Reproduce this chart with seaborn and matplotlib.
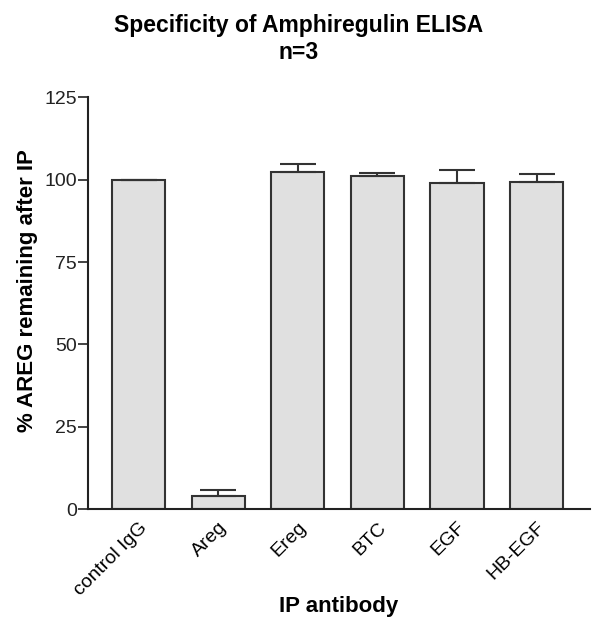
import matplotlib
matplotlib.use("Agg")
import matplotlib.pyplot as plt
import pandas as pd
import seaborn as sns

# Data
antibodies = ["control IgG", "Areg", "Ereg", "BTC", "EGF", "HB-EGF"]
percent_remaining = [100.0, 4.0, 102.4, 101.0, 98.9, 99.3]
sem = [0.0, 1.8, 2.3, 0.9, 4.1, 2.5]

df = pd.DataFrame({"antibody": antibodies, "value": percent_remaining, "err": sem})

sns.set_style("ticks")
plt.rcParams["font.family"] = ["Liberation Sans", "DejaVu Sans"]
plt.rcParams.update({"text.color": "black", "axes.labelcolor": "black",
                     "xtick.color": "black", "ytick.color": "black"})

fig = plt.figure(figsize=(5.97, 6.24), dpi=100)
ax = fig.add_axes([0.147, 0.184, 0.841, 0.660])

# Bars
sns.barplot(data=df, x="antibody", y="value", ax=ax, color="#e0e0e0",
            edgecolor="#333333", linewidth=1.5, width=0.67, errorbar=None,
            saturation=1)

# Upper-only error bars
ax.errorbar(range(len(df)), df["value"], yerr=[[0] * len(df), df["err"]],
            fmt="none", ecolor="#333333", elinewidth=1.5, capsize=13,
            capthick=1.5)

ax.set_ylim(0, 125)
ax.set_xlim(-0.64, 5.67)
ax.set_yticks([0, 25, 50, 75, 100, 125])
ax.tick_params(axis="y", labelsize=14, length=7, width=1.2, direction="out",
               pad=1, colors="#222222")
ax.tick_params(axis="x", length=0, labelsize=14, pad=7)
plt.setp(ax.get_xticklabels(), rotation=45, ha="right", rotation_mode="anchor")

for side in ["top", "right"]:
    ax.spines[side].set_visible(False)
for side in ["left", "bottom"]:
    ax.spines[side].set_linewidth(1.5)
    ax.spines[side].set_color("#222222")

ax.set_xlabel("IP antibody", fontsize=16, fontweight="bold")
ax.set_ylabel("% AREG remaining after IP", fontsize=16, fontweight="bold")
ax.xaxis.set_label_coords(0.5, -0.212)
ax.yaxis.set_label_coords(-0.100, 0.53)

fig.suptitle("Specificity of Amphiregulin ELISA\nn=3", fontsize=16.5,
             fontweight="bold", x=0.5, y=0.978, linespacing=1.25)

fig.savefig("out.png", dpi=100)
